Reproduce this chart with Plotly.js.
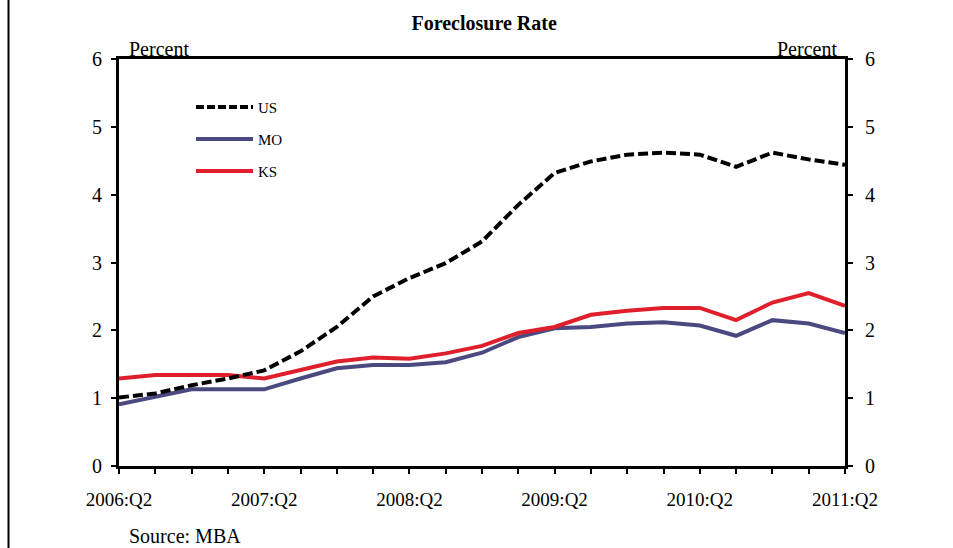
<!DOCTYPE html>
<html>
<head>
<meta charset="utf-8">
<script src="https://cdn.plot.ly/plotly-3.0.1.min.js"></script>
<style>html,body{margin:0;padding:0;background:#fff;}#chart{width:953px;height:548px;}</style>
</head>
<body>
<div id="chart"></div>
<script>
const quarters = ["2006:Q2","2006:Q3","2006:Q4","2007:Q1","2007:Q2","2007:Q3","2007:Q4","2008:Q1","2008:Q2","2008:Q3","2008:Q4","2009:Q1","2009:Q2","2009:Q3","2009:Q4","2010:Q1","2010:Q2","2010:Q3","2010:Q4","2011:Q1","2011:Q2"];
const usRate = [1.01,1.07,1.19,1.29,1.41,1.69,2.05,2.50,2.77,2.99,3.31,3.85,4.32,4.49,4.59,4.62,4.59,4.41,4.62,4.52,4.44];
const moRate = [0.91,1.02,1.13,1.13,1.13,1.29,1.44,1.49,1.49,1.53,1.67,1.90,2.03,2.05,2.10,2.12,2.07,1.92,2.15,2.10,1.96];
const ksRate = [1.29,1.34,1.34,1.34,1.29,1.41,1.54,1.60,1.58,1.66,1.77,1.96,2.05,2.23,2.29,2.33,2.33,2.15,2.41,2.55,2.36];
const xTickLabels = quarters.map((q,i) => (i % 4 === 0 ? q : ""));
const yTicks = [0,1,2,3,4,5,6];
const seriesNames = ["US","MO","KS"];
const seriesColors = ["#000000","#4b4a80","#e01f2d"];

const font = "Liberation Serif, Times New Roman, serif";

const traces = [
  {x: quarters, y: usRate, name: seriesNames[0], type: "scatter", mode: "lines", yaxis: "y2",
   line: {color: seriesColors[0], width: 4, dash: "10px,4px"}},
  {x: quarters, y: moRate, name: seriesNames[1], type: "scatter", mode: "lines",
   line: {color: seriesColors[1], width: 4}},
  {x: quarters, y: ksRate, name: seriesNames[2], type: "scatter", mode: "lines",
   line: {color: seriesColors[2], width: 4}}
];

// legend drawn inside plot (paper coords)
const W = 726, H = 407;
const px = v => (v - 119) / W;
const py = v => (466 - v) / H;
const legendY = [107, 139, 171];
const shapes = [];
const annotations = [];
seriesNames.forEach((n,i) => {
  shapes.push({type: "line", xref: "paper", yref: "paper",
    x0: px(196), x1: px(253), y0: py(legendY[i]), y1: py(legendY[i]),
    line: {color: seriesColors[i], width: 4, dash: i === 0 ? "8px,3px" : "solid"}});
  annotations.push({xref: "paper", yref: "paper", x: px(256), y: py(legendY[i] + 1),
    xanchor: "left", yanchor: "middle", showarrow: false, text: n,
    font: {family: font, size: 15, color: "#000"}});
});
// left frame line
shapes.push({type: "line", xref: "paper", yref: "paper", x0: px(8.5), x1: px(8.5), y0: py(0), y1: py(548),
  line: {color: "#000", width: 2}});

annotations.push({xref: "paper", yref: "paper", x: px(127), y: py(49), xanchor: "left", yanchor: "middle",
  showarrow: false, text: "Percent", font: {family: font, size: 20, color: "#000"}});
annotations.push({xref: "paper", yref: "paper", x: px(839), y: py(49), xanchor: "right", yanchor: "middle",
  showarrow: false, text: "Percent", font: {family: font, size: 20, color: "#000"}});
annotations.push({xref: "paper", yref: "paper", x: px(127), y: py(536), xanchor: "left", yanchor: "middle",
  showarrow: false, text: "Source: MBA", font: {family: font, size: 20, color: "#000"}});

const yCommon = {range: [0,6], tickvals: yTicks, ticks: "outside", ticklen: 5, tickwidth: 2, tickcolor: "#000",
  showline: true, linewidth: 3, linecolor: "#000", showgrid: false, zeroline: false,
  tickfont: {family: font, size: 20, color: "#000"}, fixedrange: true};

const layout = {
  width: 953, height: 548,
  margin: {l: 119, r: 108, t: 59, b: 82},
  paper_bgcolor: "#fff", plot_bgcolor: "#fff",
  showlegend: false,
  title: {text: "<b>Foreclosure Rate</b>", x: 0.508, xanchor: "center", y: 1 - 23/548, yanchor: "middle",
    font: {family: font, size: 20, color: "#000"}},
  xaxis: {type: "category", range: [0, 20], tickvals: quarters, ticktext: xTickLabels,
    ticks: "outside", ticklen: 5, tickwidth: 2, tickcolor: "#000",
    showline: true, linewidth: 3, linecolor: "#000", mirror: true, showgrid: false, zeroline: false,
    tickangle: 0, ticklabelstandoff: 9,
    tickfont: {family: font, size: 19, color: "#000"}},
  yaxis: Object.assign({side: "left", ticklabelstandoff: 5}, yCommon),
  yaxis2: Object.assign({side: "right", overlaying: "y", ticklabelstandoff: 8}, yCommon),
  shapes: shapes,
  annotations: annotations
};

Plotly.newPlot("chart", traces, layout, {staticPlot: true, displayModeBar: false});
</script>
</body>
</html>
